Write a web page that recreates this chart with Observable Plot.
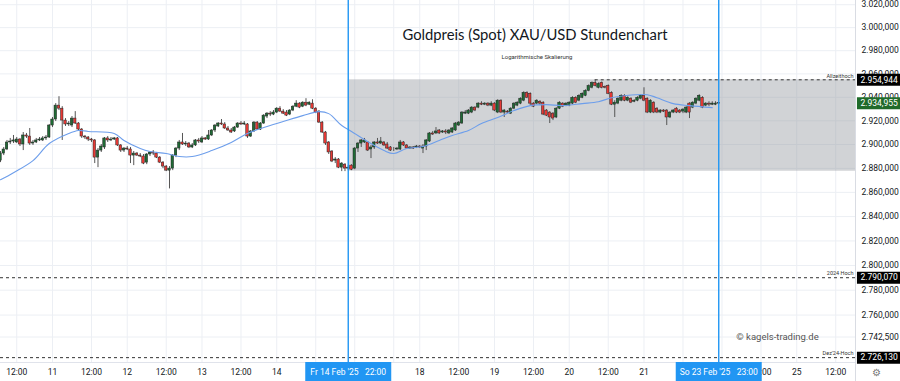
<!DOCTYPE html>
<html><head><meta charset="utf-8">
<script src="https://cdn.jsdelivr.net/npm/d3@7"></script>
<script src="https://cdn.jsdelivr.net/npm/@observablehq/plot@0.6"></script>
<style>
html,body{margin:0;padding:0;background:#fff;}
#chart svg{display:block;}
</style></head><body><div id="chart"></div>
<script>
// hourly bar index: 0 = Mon 10 Feb 00:00 (weekend / holiday gaps collapsed)
const startIndex = 7;
const open = [
2886.5,2892.4,2895.8,2901.7,2902.5,2901.7,2904.2,2900.0,2907.6,2906.7,
2900.8,2901.7,2903.4,2903.4,2905.1,2905.9,2916.0,2921.1,2932.9,2930.3,
2920.2,2916.9,2916.0,2921.9,2917.7,2912.6,2906.7,2905.9,2904.2,2903.4,
2889.0,2894.9,2897.5,2905.1,2903.4,2904.2,2905.1,2899.2,2894.9,2896.6,
2895.8,2890.7,2892.4,2890.7,2889.9,2884.8,2891.6,2893.3,2892.4,2889.0,
2884.8,2881.5,2878.1,2879.8,2890.7,2896.6,2901.7,2900.0,2900.8,2897.5,
2899.2,2903.4,2901.7,2905.1,2904.2,2907.6,2911.8,2915.2,2917.7,2916.9,
2913.5,2911.8,2911.0,2914.3,2917.7,2916.9,2916.9,2906.7,2911.0,2918.5,
2912.6,2917.7,2923.6,2926.1,2925.3,2927.0,2930.3,2927.8,2927.0,2925.3,
2928.7,2932.0,2934.6,2932.0,2935.4,2933.7,2934.6,2930.3,2927.8,2918.5,
2910.1,2901.7,2894.1,2886.5,2887.4,2880.6,2883.1,2879.8,2882.3,2879.8,
2896.6,2900.8,2901.7,2901.7,2895.8,2897.5,2901.7,2900.8,2901.7,2900.0,
2897.5,2895.8,2895.8,2895.8,2901.7,2899.2,2896.6,2897.5,2897.5,2898.3,
2896.6,2898.3,2902.5,2909.3,2909.3,2911.8,2910.1,2911.0,2909.3,2910.1,
2911.8,2916.0,2917.7,2926.1,2926.1,2927.0,2931.2,2931.2,2934.6,2933.7,
2934.6,2932.9,2934.6,2927.0,2937.1,2927.0,2927.8,2926.1,2930.3,2932.9,
2934.6,2937.1,2943.8,2943.0,2934.6,2934.6,2936.2,2935.4,2928.7,2927.0,
2926.1,2922.8,2930.3,2934.6,2932.9,2932.9,2934.6,2939.6,2937.1,2939.6,
2941.3,2945.5,2948.1,2952.3,2948.1,2952.3,2948.9,2949.7,2943.8,2933.7,
2934.6,2937.1,2941.3,2937.1,2938.8,2936.2,2937.1,2938.8,2941.3,2938.8,
2927.0,2935.4,2930.3,2927.0,2928.7,2928.7,2922.8,2927.0,2930.3,2928.7,
2927.8,2927.0,2934.6,2931.2,2934.6,2937.1,2939.6,2932.9,2934.6,2933.7,
2933.7,2934.6];
const high = [
2894.1,2897.5,2903.4,2905.1,2907.6,2905.9,2905.1,2910.1,2909.3,2913.5,
2903.4,2905.1,2905.9,2906.7,2907.6,2916.9,2922.8,2934.6,2940.5,2932.0,
2921.9,2919.4,2923.6,2927.8,2918.5,2913.5,2907.6,2906.7,2905.1,2904.2,
2896.6,2900.0,2905.9,2906.7,2905.9,2905.9,2905.9,2900.0,2897.5,2898.3,
2897.5,2894.1,2893.3,2892.4,2891.6,2892.4,2894.1,2894.9,2893.3,2889.9,
2885.7,2882.3,2881.5,2891.6,2897.5,2903.4,2909.3,2902.5,2901.7,2900.8,
2904.2,2905.1,2906.7,2905.9,2911.8,2912.6,2916.9,2918.5,2921.1,2918.5,
2915.2,2913.5,2915.2,2918.5,2919.4,2919.4,2917.7,2911.8,2919.4,2919.4,
2918.5,2925.3,2927.0,2927.8,2928.7,2931.2,2932.0,2929.5,2928.7,2929.5,
2932.9,2937.1,2935.4,2936.2,2938.8,2936.2,2937.9,2931.2,2928.7,2919.4,
2911.0,2902.5,2894.9,2889.0,2888.2,2884.8,2884.0,2882.3,2883.1,2897.5,
2901.7,2904.2,2905.1,2902.5,2899.2,2902.5,2905.1,2905.9,2902.5,2901.7,
2898.3,2897.5,2897.5,2903.4,2902.5,2900.0,2898.3,2898.3,2899.2,2899.2,
2900.0,2904.2,2910.1,2911.0,2914.3,2912.6,2911.8,2912.6,2912.6,2914.3,
2918.5,2919.4,2927.8,2928.7,2929.5,2932.0,2932.0,2935.4,2936.2,2935.4,
2935.4,2936.2,2935.4,2937.9,2937.9,2929.5,2928.7,2931.2,2935.4,2936.2,
2939.6,2944.7,2944.7,2943.8,2935.4,2937.9,2937.1,2936.2,2929.5,2927.8,
2927.0,2931.2,2936.2,2935.4,2935.4,2936.2,2940.5,2940.5,2942.2,2943.8,
2946.4,2950.6,2953.1,2954.944,2952.3,2953.1,2949.7,2950.6,2944.7,2937.1,
2939.6,2942.2,2942.2,2940.5,2939.6,2937.9,2940.5,2942.2,2948.1,2939.6,
2937.9,2936.2,2931.2,2929.5,2929.5,2929.5,2927.8,2929.5,2931.2,2929.5,
2930.3,2932.0,2935.4,2936.2,2939.6,2942.2,2940.5,2935.4,2936.2,2936.2,
2936.2,2935.4];
const low = [
2884.8,2890.7,2894.9,2900.0,2900.8,2900.8,2898.3,2894.9,2905.1,2899.2,
2899.2,2900.8,2902.5,2902.5,2903.4,2905.1,2914.3,2919.4,2928.7,2903.4,
2915.2,2915.2,2914.3,2916.9,2911.0,2905.1,2904.2,2902.5,2901.7,2884.0,
2880.6,2893.3,2895.8,2901.7,2902.5,2903.4,2898.3,2893.3,2893.3,2894.9,
2884.0,2882.3,2889.9,2889.0,2883.1,2883.1,2889.9,2890.7,2888.2,2884.0,
2879.8,2877.3,2862.9,2878.1,2889.0,2894.9,2899.2,2898.3,2896.6,2896.6,
2898.3,2900.8,2900.8,2903.4,2903.4,2906.7,2910.1,2914.3,2916.0,2912.6,
2911.0,2909.3,2910.1,2913.5,2916.0,2916.0,2905.1,2905.9,2910.1,2911.8,
2911.8,2916.9,2921.9,2923.6,2924.4,2926.1,2927.0,2925.3,2923.6,2924.4,
2927.8,2931.2,2930.3,2931.2,2932.0,2932.9,2929.5,2926.1,2917.7,2909.3,
2899.2,2891.6,2884.8,2884.0,2879.8,2877.3,2877.3,2878.1,2878.1,2878.9,
2893.3,2897.5,2900.8,2894.1,2888.2,2895.8,2900.0,2900.0,2898.3,2895.8,
2894.1,2894.1,2894.9,2894.9,2898.3,2895.8,2895.8,2895.8,2896.6,2896.6,
2892.4,2894.9,2901.7,2907.6,2908.4,2908.4,2909.3,2908.4,2908.4,2909.3,
2911.0,2915.2,2916.9,2925.3,2925.3,2926.1,2927.8,2930.3,2932.9,2932.9,
2932.0,2932.0,2927.8,2926.1,2926.1,2922.8,2926.1,2925.3,2929.5,2932.0,
2933.7,2936.2,2938.8,2932.9,2931.2,2933.7,2932.9,2924.4,2923.6,2917.7,
2920.2,2921.9,2929.5,2931.2,2932.0,2932.0,2933.7,2934.6,2936.2,2938.8,
2940.5,2944.7,2947.2,2948.9,2947.2,2947.2,2947.2,2942.2,2932.9,2922.8,
2933.7,2936.2,2936.2,2936.2,2934.6,2935.4,2936.2,2937.9,2936.2,2926.1,
2926.1,2926.1,2926.1,2926.1,2927.0,2916.0,2921.9,2926.1,2926.1,2926.1,
2926.1,2926.1,2921.9,2930.3,2933.7,2936.2,2930.3,2932.0,2932.0,2932.9,
2932.9,2933.7];
const close = [
2892.4,2895.8,2901.7,2902.5,2903.4,2904.2,2900.0,2907.6,2906.7,2900.8,
2901.7,2903.4,2904.2,2905.1,2905.9,2916.0,2921.1,2932.9,2930.3,2920.2,
2916.9,2917.7,2921.9,2917.7,2912.6,2906.7,2905.9,2904.2,2903.4,2889.0,
2894.9,2898.3,2905.1,2903.4,2904.2,2905.1,2899.2,2894.9,2896.6,2895.8,
2890.7,2892.4,2890.7,2889.9,2884.0,2891.6,2893.3,2892.4,2889.0,2884.8,
2881.5,2878.1,2879.8,2890.7,2896.6,2901.7,2900.0,2900.8,2897.5,2899.2,
2903.4,2902.5,2905.1,2904.2,2907.6,2911.8,2916.0,2917.7,2916.9,2913.5,
2911.8,2910.1,2914.3,2917.7,2916.9,2917.7,2906.7,2911.0,2918.5,2912.6,
2917.7,2924.4,2926.1,2925.3,2927.0,2930.3,2927.8,2926.1,2924.4,2928.7,
2932.0,2934.6,2931.2,2935.4,2932.9,2935.4,2930.3,2927.0,2918.5,2910.1,
2900.8,2893.3,2885.7,2887.4,2880.6,2884.0,2879.8,2880.6,2878.9,2896.6,
2900.8,2903.4,2903.4,2894.9,2897.5,2901.7,2900.8,2902.5,2899.2,2896.6,
2894.9,2895.8,2896.6,2901.7,2899.2,2896.6,2897.5,2896.6,2898.3,2897.5,
2898.3,2903.4,2909.3,2908.4,2911.0,2909.3,2911.0,2910.1,2911.8,2913.5,
2917.7,2918.5,2927.0,2927.0,2928.7,2931.2,2928.7,2934.6,2933.7,2934.6,
2932.9,2934.6,2928.7,2937.1,2927.0,2928.7,2927.0,2930.3,2934.6,2935.4,
2938.8,2943.8,2939.6,2934.6,2932.0,2937.1,2934.6,2925.3,2924.4,2922.8,
2921.9,2930.3,2935.4,2932.0,2934.6,2935.4,2939.6,2935.4,2941.3,2943.0,
2945.5,2949.7,2952.3,2949.7,2951.4,2948.1,2948.1,2943.0,2933.7,2935.4,
2938.8,2941.3,2937.1,2939.6,2935.4,2937.1,2939.6,2941.3,2937.1,2927.0,
2937.1,2927.0,2927.0,2928.7,2927.8,2922.8,2927.0,2928.7,2927.0,2927.0,
2929.5,2931.2,2927.0,2935.4,2938.8,2941.3,2931.2,2934.6,2933.7,2934.6,
2934.6,2934.955];

// moving average
const maIndex = [7,11,17,22,28,31,34,42,45,50,53,58,62,66,72,78,83,88,94,100,105,108,112,115,121,125,128,132,137,142,146,151,155,160,165,170,175,180,186,191,195,199,206,209,214,219,226];
const maValue = [2870.5,2876.4,2886.5,2900.8,2909.3,2911.8,2911.0,2909.3,2903.4,2896.6,2894.1,2892.4,2889.9,2889.9,2894.9,2901.7,2909.3,2914.3,2919.4,2924.4,2927.8,2926.1,2916.0,2911.0,2900.8,2894.9,2892.4,2896.6,2898.3,2903.4,2907.6,2911.8,2917.7,2922.8,2928.7,2932.9,2933.7,2932.9,2934.6,2936.2,2939.6,2941.3,2942.2,2939.6,2934.6,2932.9,2931.2];

// x-axis labels
const xTickIndex = [12,23,35,46,58,69,81,92,136,148,159,171,182,194,205,241,252,264];
const xTickLabels = ["12:00","11","12:00","12","12:00","13","12:00","14","18","12:00","19","12:00","20","12:00","21","12:00","25","12:00"];
const xGridIndex = [12,23,35,46,58,69,81,92,104,116,128,136,148,159,171,182,194,205,217,229,241,252,264];

// y-axis ticks
const yTicks = [2742.5,2760,2780,2800,2820,2840,2860,2880,2900,2920,2940,2960,2980,3000,3020];

// markers (vertical lines)
const markerIndex = [114, 228];
const markerLabels = ["Fr 14 Feb '25\u00a0\u00a0\u00a022:00", "So 23 Feb '25\u00a0\u00a0\u00a023:00"];

// levels
const levelValues = [2954.944, 2790.07, 2726.13];
const levelNames = ["Allzeithoch", "2024 Hoch", "Dez'24-Hoch"];
const levelStart = [190, null, null];
const lastPrice = 2934.955;
const rangeLow = 2877.6;
const rangeStartIndex = 114;

// scale extents
const xMin = 7, xMax = 270.08;
const yMin = 2722.3, yMax = 3023.7, yBottom = 2707.3;

const de = v => { const [a,b] = v.toFixed(3).split("."); return a.replace(/\B(?=(\d{3})+(?!\d))/g, ".") + "," + b; };

const candles = open.map((o,k) => ({i: startIndex + k, open: o, high: high[k], low: low[k], close: close[k]}));
const ma = maIndex.map((i,k) => ({i, v: maValue[k]}));
const labelOf = new Map(xTickIndex.map((i,k) => [i, xTickLabels[k]]));
const markers = markerIndex.map((i,k) => ({i, label: markerLabels[k]}));
const levels = levelValues.map((v,k) => ({v, name: levelNames[k], x1: levelStart[k] ?? xMin}));
const boxes = [
  {v: levelValues[0], color: "#000000"},
  {v: lastPrice, color: "#1f6b2a"},
  {v: levelValues[1], color: "#000000"},
  {v: levelValues[2], color: "#000000"}
];
const GREEN = "#1f6b35", RED = "#e53935";

const chart = Plot.plot({
  width: 900, height: 381,
  marginLeft: 0, marginRight: 45, marginTop: 0, marginBottom: 19,
  style: {fontFamily: "Roboto, sans-serif", fontSize: "8.5px", color: "#131722", background: "#fff", overflow: "visible"},
  x: {domain: [xMin, xMax]},
  y: {type: "log", domain: [yMin, yMax]},
  marks: [
    Plot.gridX(xGridIndex, {stroke: "#eceff4", strokeOpacity: 1}),
    Plot.gridY(yTicks, {stroke: "#eceff4", strokeOpacity: 1}),
    Plot.rect([{x1: rangeStartIndex, x2: xMax, y1: rangeLow, y2: levelValues[0]}],
      {x1: "x1", x2: "x2", y1: "y1", y2: "y2", fill: "#9598a1", fillOpacity: 0.43}),
    Plot.ruleY(levels, {y: "v", x1: "x1", x2: xMax, stroke: "#333", strokeWidth: 1, strokeDasharray: "3,3"}),
    Plot.text(levels, {y: "v", text: "name", frameAnchor: "right", dx: -2, dy: -4, textAnchor: "end", fontSize: 5.5, fill: "#333"}),
    Plot.ruleX(candles, {x: "i", y1: "low", y2: "high", stroke: "#555", strokeWidth: 1}),
    Plot.rect(candles, {x1: d => d.i - 0.38, x2: d => d.i + 0.38, y1: "open", y2: "close",
      fill: d => d.close >= d.open ? GREEN : RED, stroke: "#222", strokeWidth: 0.5}),
    Plot.line(ma, {x: "i", y: "v", stroke: "#6d9eeb", strokeWidth: 1.1, curve: "catmull-rom"}),
    Plot.ruleX(markers, {x: "i", y1: yBottom, y2: yMax, stroke: "#2196f3", strokeWidth: 1.4}),
    Plot.text(["Goldpreis (Spot) XAU/USD Stundenchart"], {frameAnchor: "top", lineAnchor: "middle", dx: 107, dy: 35, fontSize: 14.8, fill: "#131722", fontFamily: "Lato, sans-serif"}),
    Plot.text(["Logarithmische Skalierung"], {frameAnchor: "top", lineAnchor: "middle", dx: 109, dy: 57, fontSize: 6, fill: "#333"}),
    Plot.text(["\u00a9 kagels-trading.de"], {frameAnchor: "bottom-right", lineAnchor: "middle", dx: -78, dy: -26, fontSize: 9.5, fill: "#555", textAnchor: "middle"}),
    Plot.axisX(xTickIndex, {tickSize: 0, tickPadding: 6, tickFormat: i => labelOf.get(i), fontSize: 8.5, fill: "#131722"}),
    Plot.axisY(yTicks, {anchor: "right", tickSize: 0, tickPadding: 6, tickFormat: de, textAnchor: "start", fontSize: 8.5, fill: "#131722"}),
    Plot.ruleX([xMax], {y1: yBottom, y2: yMax, stroke: "#d9dce3"}),
    Plot.ruleY([yMin], {x1: xMin, x2: xMax, stroke: "#e0e3eb"}),
    Plot.ruleY(boxes, {y: "v", x1: xMax + 0.6, x2: xMax + 14, stroke: "color", strokeWidth: 12}),
    Plot.text(boxes, {y: "v", text: d => de(d.v), frameAnchor: "right", dx: 5, textAnchor: "start", fill: "white", fontSize: 8.5}),
    Plot.ruleX(markers, {x: "i", y1: yMin, y2: yBottom, stroke: "#2196f3", strokeWidth: 86}),
    Plot.text(markers, {x: "i", text: "label", frameAnchor: "bottom", lineAnchor: "middle", dy: 10, fill: "white", fontSize: 8.5}),
    Plot.text(["\u2699"], {frameAnchor: "bottom-right", lineAnchor: "middle", dx: 25, dy: 10, fontSize: 10, fill: "#777"})
  ]
});
document.getElementById("chart").append(chart);
</script>
</body></html>
